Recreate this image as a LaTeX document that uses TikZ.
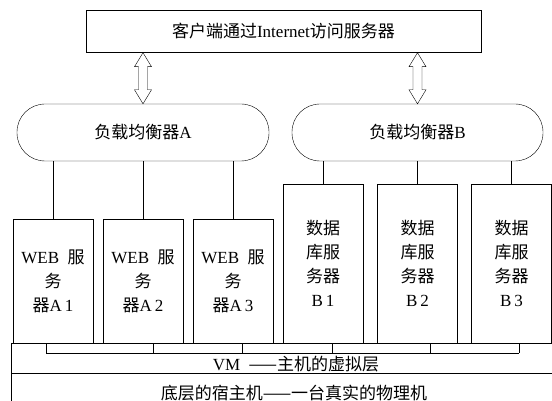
\documentclass[tikz,border=0pt]{standalone}
\usepackage{fontspec}
\setmainfont{Liberation Serif}
\newfontfamily\cjk{Noto Sans CJK SC}
\usetikzlibrary{calc}

\begin{document}
\begin{tikzpicture}[x=1pt,y=-1pt,
	font=\fontsize{17}{24}\selectfont,
	srvbox/.style={draw,minimum width=80pt,align=center,inner sep=0pt},
	balancer/.style={draw,rounded corners=28pt,minimum height=57pt,inner sep=0pt},
	dblarrow/.style={to path={let \p1=(\tikztostart), \p2=(\tikztotarget) in
		(\x1,\y1)--(\x1-8.5pt,\y1-14pt)--(\x1-4.5pt,\y1-14pt)--(\x1-4.5pt,\y2+14pt)--(\x1-8.5pt,\y2+14pt)
		--(\x1,\y2)--(\x1+8.5pt,\y2+14pt)--(\x1+4.5pt,\y2+14pt)--(\x1+4.5pt,\y1-14pt)--(\x1+8.5pt,\y1-14pt)--cycle}}]
	\useasboundingbox (0,0) rectangle (552,401);
	
	%CLIENT AND BALANCERS
	\node[draw,minimum width=395pt,minimum height=42pt,inner sep=0pt] (client) at (283.5,31.5) {{\cjk 客户端通过}Internet{\cjk 访问服务器}};
	\node[balancer,minimum width=252pt] (lbA) at (143,132.5) {{\cjk 负载均衡器}A};
	\node[balancer,minimum width=251pt] (lbB) at (417.5,132.5) {{\cjk 负载均衡器}B};
	\draw (client.south -| lbA.north) to[dblarrow] (lbA.north);
	\draw (client.south -| lbB.north) to[dblarrow] (lbB.north);
	
	%SERVERS
	\node[srvbox,minimum height=124pt] (webA1) at (53,281) {WEB\ \ {\cjk 服}\\{\cjk 务}\\{\cjk 器}A\,1};
	\node[srvbox,minimum height=124pt] (webA2) at (143,281) {WEB\ \ {\cjk 服}\\{\cjk 务}\\{\cjk 器}A\,2};
	\node[srvbox,minimum height=124pt] (webA3) at (233,281) {WEB\ \ {\cjk 服}\\{\cjk 务}\\{\cjk 器}A\,3};
	\node[srvbox,minimum height=159pt] (dbB1) at (323,263.5) {{\cjk 数据}\\{\cjk 库服}\\{\cjk 务器}\\B\,1};
	\node[srvbox,minimum height=159pt] (dbB2) at (417.5,263.5) {{\cjk 数据}\\{\cjk 库服}\\{\cjk 务器}\\B\,2};
	\node[srvbox,minimum height=159pt] (dbB3) at (511.5,263.5) {{\cjk 数据}\\{\cjk 库服}\\{\cjk 务器}\\B\,3};
	\foreach \s in {webA1,webA2,webA3} \draw (\s.north |- lbA.south) -- (\s.north);
	\foreach \s in {dbB1,dbB2,dbB3} \draw (\s.north |- lbB.south) -- (\s.north);
	
	%LAYERS
	\draw (11,343) rectangle (570,420);
	\draw (11,373) -- (570,373);
	\draw (46,353) -- (519,353);
	\foreach \x in {46,153,242,332,430,519} \draw (\x,343) -- (\x,353);
	\node (vm) at (296,364) {VM\ \ {\cjk ——主机的虚拟层}};
	\node (host) at (294,393) {{\cjk 底层的宿主机——一台真实的物理机}};
\end{tikzpicture}
\end{document}
